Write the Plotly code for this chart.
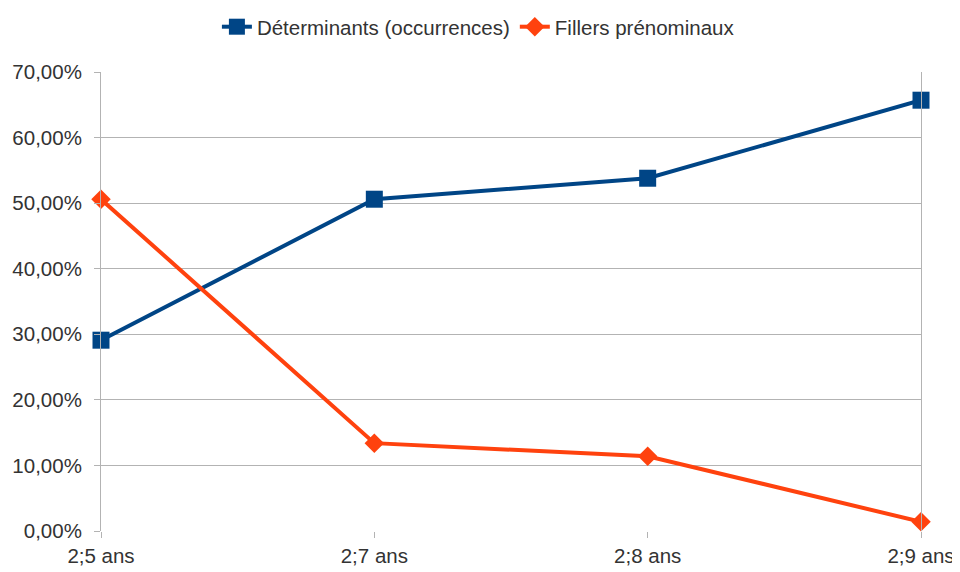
import plotly.graph_objects as go

ages = ['2;5 ans', '2;7 ans', '2;8 ans', '2;9 ans']
determinants = [0.291, 0.506, 0.538, 0.657]
fillers = [0.506, 0.134, 0.114, 0.014]
y_ticks = [0, 0.1, 0.2, 0.3, 0.4, 0.5, 0.6, 0.7]

grid = '#b3b3b3'
font = dict(family='Liberation Sans, Arial, sans-serif', size=20.5, color='#333333')

fig = go.Figure()
fig.add_trace(go.Scatter(
    x=ages, y=determinants, name='Déterminants (occurrences)',
    mode='lines+markers', cliponaxis=False,
    line=dict(color='#004586', width=4),
    marker=dict(symbol='square', size=17, color='#004586'),
))
fig.add_trace(go.Scatter(
    x=ages, y=fillers, name='Fillers prénominaux',
    mode='lines+markers', cliponaxis=False,
    line=dict(color='#ff420e', width=4),
    marker=dict(symbol='diamond', size=15, color='#ff420e'),
))

# page body adds an 8px offset, so margins are shifted to compensate
fig.update_layout(
    width=960, height=572,
    margin=dict(l=93, r=47, t=64, b=49),
    plot_bgcolor='white', paper_bgcolor='white',
    font=font,
    separators=', ',
    showlegend=True,
    legend=dict(orientation='h', xref='container', x=0.49, xanchor='center',
                yref='container', y=0.967, yanchor='middle',
                font=font, tracegroupgap=0),
    xaxis=dict(
        type='category', range=[0, 3], showgrid=False, zeroline=False,
        showline=False, ticks='outside', ticklen=6, tickcolor=grid,
        tickfont=font, automargin=False,
    ),
    yaxis=dict(
        range=[0, 0.7], tickvals=y_ticks, tickformat='.2%',
        showgrid=True, gridcolor=grid, gridwidth=1, zeroline=False,
        showline=True, linecolor=grid, mirror=True,
        ticks='outside', ticklen=6, tickcolor=grid, tickfont=font,
        ticklabelstandoff=8, automargin=False,
    ),
)

fig.write_html("out.html")
